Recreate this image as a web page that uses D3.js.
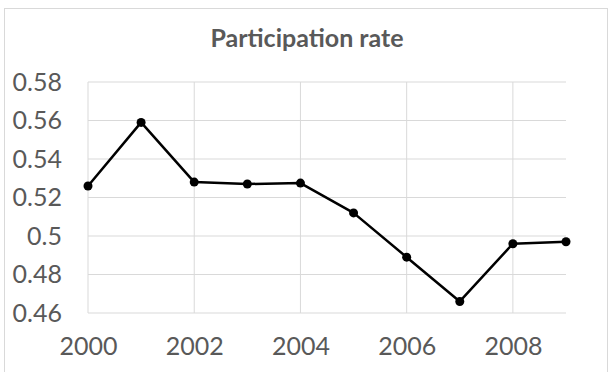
<!DOCTYPE html>
<html>
<head>
<meta charset="utf-8">
<script src="https://cdn.jsdelivr.net/npm/d3@7"></script>
<style>
  body { margin: 0; background: #fff; }
  text { font-family: Lato, "Open Sans", sans-serif; fill: #595959; }
</style>
</head>
<body>
<script>
var years = [2000, 2001, 2002, 2003, 2004, 2005, 2006, 2007, 2008, 2009];
var rates = [0.526, 0.559, 0.528, 0.527, 0.5275, 0.512, 0.489, 0.466, 0.496, 0.497];
var xTicks = [2000, 2002, 2004, 2006, 2008];
var yTicks = [0.46, 0.48, 0.50, 0.52, 0.54, 0.56, 0.58];

var width = 612;
var height = 372;
var margin = {top: 82, right: 46, bottom: 59, left: 88};

var svg = d3.select("body")
    .append("svg")
    .attr("width", width)
    .attr("height", height);

// chart border
svg.append("rect")
    .attr("x", 4.5)
    .attr("y", 8.5)
    .attr("width", 603)
    .attr("height", 380)
    .attr("fill", "#fff")
    .attr("stroke", "#d9d9d9");

var x = d3.scaleLinear()
    .domain([2000, 2009])
    .range([margin.left, width - margin.right]);

var y = d3.scaleLinear()
    .domain([0.46, 0.58])
    .range([height - margin.bottom, margin.top]);

// horizontal gridlines
svg.append("g")
    .selectAll("line")
    .data(yTicks)
    .enter().append("line")
    .attr("x1", x(2000))
    .attr("x2", x(2009))
    .attr("y1", function(d) { return y(d); })
    .attr("y2", function(d) { return y(d); })
    .attr("stroke", "#d9d9d9")
    .attr("stroke-width", 1);

// vertical gridlines
svg.append("g")
    .selectAll("line")
    .data(xTicks)
    .enter().append("line")
    .attr("x1", function(d) { return x(d); })
    .attr("x2", function(d) { return x(d); })
    .attr("y1", y(0.58))
    .attr("y2", y(0.46))
    .attr("stroke", "#d9d9d9")
    .attr("stroke-width", 1);

// axis labels
var yAxis = d3.axisLeft(y)
    .tickValues(yTicks)
    .tickSize(0)
    .tickPadding(26)
    .tickFormat(function(d) { return d3.format("")(+d.toFixed(2)); });

var xAxis = d3.axisBottom(x)
    .tickValues(xTicks)
    .tickSize(0)
    .tickPadding(24)
    .tickFormat(d3.format("d"));

var gy = svg.append("g")
    .attr("transform", "translate(" + margin.left + ",0)")
    .call(yAxis);
var gx = svg.append("g")
    .attr("transform", "translate(0," + (height - margin.bottom) + ")")
    .call(xAxis);

[gx, gy].forEach(function(g) {
  g.select(".domain").remove();
  g.selectAll("text")
    .attr("font-size", 25)
    .attr("font-family", "Lato, sans-serif")
    .attr("fill", "#595959");
});

// line
var line = d3.line()
    .x(function(d, i) { return x(years[i]); })
    .y(function(d) { return y(d); });

svg.append("path")
    .datum(rates)
    .attr("d", line)
    .attr("fill", "none")
    .attr("stroke", "#000")
    .attr("stroke-width", 2.5)
    .attr("stroke-linejoin", "round");

svg.selectAll(".dot")
    .data(rates)
    .enter().append("circle")
    .attr("class", "dot")
    .attr("cx", function(d, i) { return x(years[i]); })
    .attr("cy", function(d) { return y(d); })
    .attr("r", 4.5)
    .attr("fill", "#000");

svg.append("text")
    .attr("x", 307)
    .attr("y", 47)
    .attr("text-anchor", "middle")
    .attr("font-size", 25)
    .attr("font-weight", "bold")
    .text("Participation rate");
</script>
</body>
</html>
